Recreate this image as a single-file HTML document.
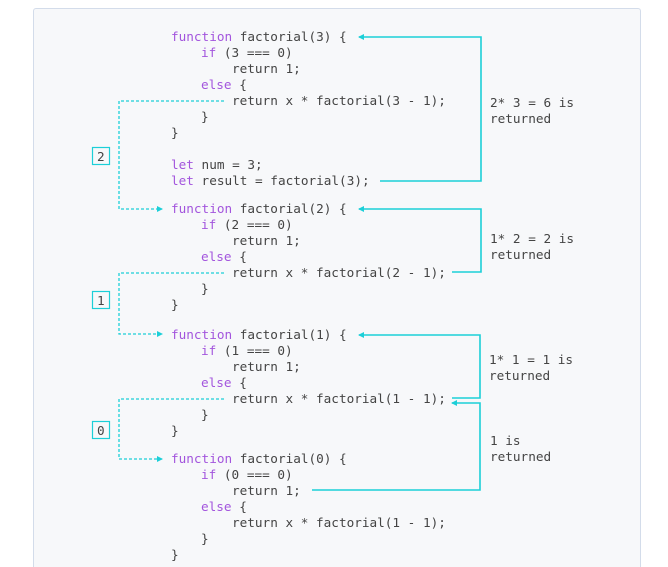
<!DOCTYPE html>
<html><head><meta charset="utf-8"><style>
html,body{margin:0;padding:0;background:#fff;width:668px;height:567px;overflow:hidden;}
body{position:relative;}
.card{position:absolute;left:33px;top:8px;width:606px;height:558px;background:#f7f8fa;border:1px solid #d3dcea;border-bottom:none;border-radius:3px 3px 0 0;}
svg{position:absolute;left:0;top:0;}
text{font-family:"DejaVu Sans Mono","Liberation Mono",monospace;font-size:12.7px;fill:#444;white-space:pre;}
.k{fill:#a355dd;}
</style></head><body>
<div class="card"></div>
<svg width="668" height="567" xmlns="http://www.w3.org/2000/svg">
<defs>
<marker id="a" markerWidth="6" markerHeight="6" refX="5" refY="3" orient="auto" markerUnits="userSpaceOnUse"><path d="M0,0 L6,3 L0,6 z" fill="#1ccfd8"/></marker>
</defs>
<g fill="none" stroke="#1ccfd8" stroke-width="1.6">
<polyline points="380,181 481,181 481,37 359,37" marker-end="url(#a)"/>
<polyline points="452,272 481,272 481,209 359,209" marker-end="url(#a)"/>
<polyline points="452,398 480,398 480,335 359,335" marker-end="url(#a)"/>
<polyline points="312,490 480,490 480,403 452,403" marker-end="url(#a)"/>
<g stroke-dasharray="3,2" stroke-width="1.3">
<polyline points="224,101 119,101 119,209 162,209" marker-end="url(#a)"/>
<polyline points="224,273 119,273 119,334 162,334" marker-end="url(#a)"/>
<polyline points="224,399 119,399 119,459 162,459" marker-end="url(#a)"/>
</g>
<rect x="92.5" y="147.5" width="17" height="17" stroke-width="1.2"/>
<rect x="92.5" y="291.5" width="17" height="17" stroke-width="1.2"/>
<rect x="92.5" y="421.5" width="17" height="17" stroke-width="1.2"/>
</g>
<text x="97" y="161">2</text>
<text x="97" y="305">1</text>
<text x="97" y="435">0</text>

<text x="171" y="41"><tspan class="k">function</tspan> factorial(3) {</text>
<text x="201" y="57"><tspan class="k">if</tspan> (3 === 0)</text>
<text x="232" y="73">return 1;</text>
<text x="201" y="89"><tspan class="k">else</tspan> {</text>
<text x="232" y="105">return x * factorial(3 - 1);</text>
<text x="201" y="121">}</text>
<text x="171" y="137">}</text>
<text x="171" y="169"><tspan class="k">let</tspan> num = 3;</text>
<text x="171" y="185"><tspan class="k">let</tspan> result = factorial(3);</text>

<text x="171" y="213"><tspan class="k">function</tspan> factorial(2) {</text>
<text x="201" y="229"><tspan class="k">if</tspan> (2 === 0)</text>
<text x="232" y="245">return 1;</text>
<text x="201" y="261"><tspan class="k">else</tspan> {</text>
<text x="232" y="277">return x * factorial(2 - 1);</text>
<text x="201" y="293">}</text>
<text x="171" y="309">}</text>

<text x="171" y="339"><tspan class="k">function</tspan> factorial(1) {</text>
<text x="201" y="355"><tspan class="k">if</tspan> (1 === 0)</text>
<text x="232" y="371">return 1;</text>
<text x="201" y="387"><tspan class="k">else</tspan> {</text>
<text x="232" y="403">return x * factorial(1 - 1);</text>
<text x="201" y="419">}</text>
<text x="171" y="435">}</text>

<text x="171" y="463"><tspan class="k">function</tspan> factorial(0) {</text>
<text x="201" y="479"><tspan class="k">if</tspan> (0 === 0)</text>
<text x="232" y="495">return 1;</text>
<text x="201" y="511"><tspan class="k">else</tspan> {</text>
<text x="232" y="527">return x * factorial(1 - 1);</text>
<text x="201" y="543">}</text>
<text x="171" y="559">}</text>

<text x="490" y="107">2* 3 = 6 is</text>
<text x="490" y="123">returned</text>
<text x="490" y="243">1* 2 = 2 is</text>
<text x="490" y="259">returned</text>
<text x="489" y="364">1* 1 = 1 is</text>
<text x="489" y="380">returned</text>
<text x="490" y="445">1 is</text>
<text x="490" y="461">returned</text>
</svg>
</body></html>
